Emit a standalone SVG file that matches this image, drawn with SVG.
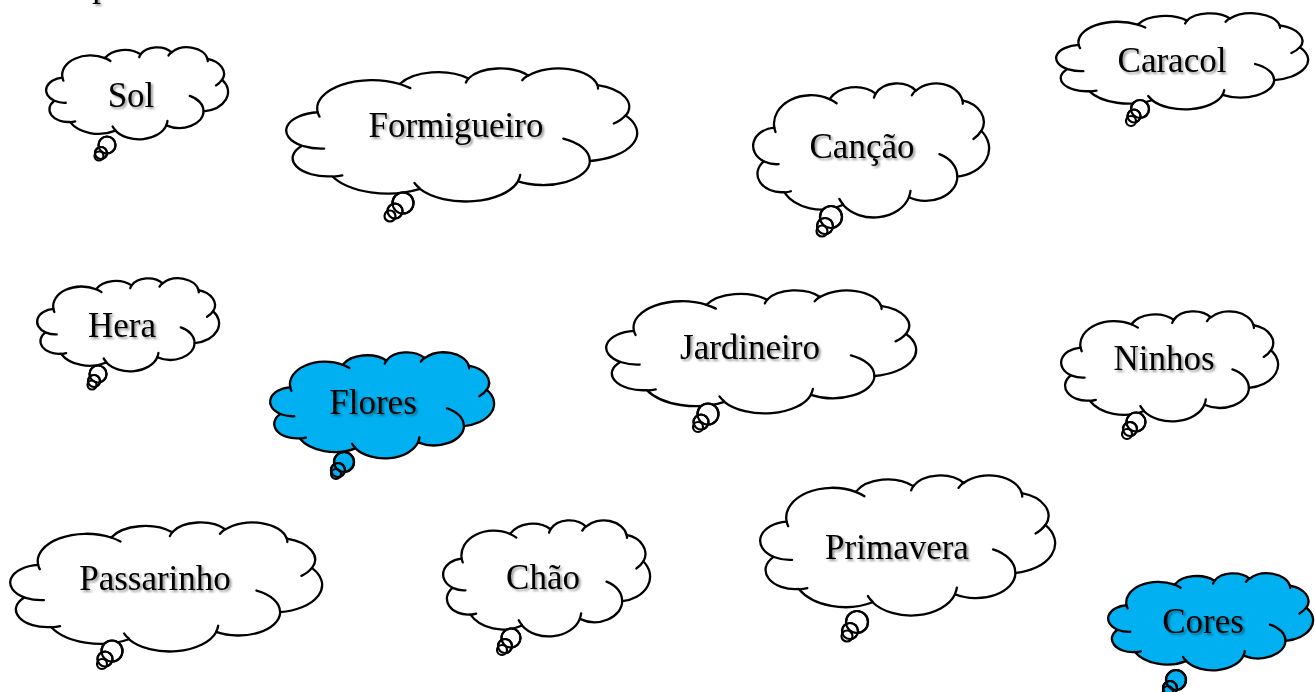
<svg xmlns="http://www.w3.org/2000/svg" xmlns:xlink="http://www.w3.org/1999/xlink" width="1315" height="692" viewBox="0 0 1315 692">
<style>
.cl{stroke:#000;stroke-width:2.3;stroke-linejoin:round;vector-effect:non-scaling-stroke}
.cr{fill:none;stroke:#000;stroke-width:2.3;stroke-linecap:round;vector-effect:non-scaling-stroke}
.w{fill:#fff}
.b{fill:#00b0f0}
.t{stroke:#000;stroke-width:2.2}
.tn{fill:none;stroke:#000;stroke-width:2.2}
text{font-family:"Liberation Serif","Times New Roman",serif;font-size:35px;fill:#000;text-anchor:middle;filter:url(#sh)}
</style>
<defs>
<filter id="sh" x="-10%" y="-30%" width="130%" height="170%"><feDropShadow dx="2" dy="2" stdDeviation="1.3" flood-color="#000" flood-opacity="0.4"/></filter>
<path id="cloud" class="cl" d="M9.03,33.26A15.63,21.27 0 0 1 32.42,12.04A12.34,16.82 0 0 1 51.98,7.95A10.10,13.76 0 0 1 69.06,5.74A11.24,15.27 0 0 1 88.70,12.91A12.34,16.84 0 0 1 96.80,35.79A15.68,21.34 0 0 1 86.59,69.92A13.39,18.21 0 0 1 66.10,85.22A15.63,21.33 0 0 1 38.15,90.90A17.87,24.41 0 0 1 13.16,81.42A10.09,13.70 0 0 1 4.61,58.45A10.06,13.76 0 0 1 9.03,33.26Z"/>
<path id="crease" class="cr" d="M10.86,60.59A10.06,13.76 0 0 1 5.00,58.75M16.04,80.79A10.09,13.70 0 0 1 13.47,81.67M38.14,90.49A15.63,21.33 0 0 1 36.60,86.46M66.73,80.44A15.63,21.33 0 0 1 66.11,84.86M79.00,53.13A13.39,18.21 0 0 1 86.53,69.65M96.75,35.54A12.34,16.84 0 0 1 93.40,41.74M88.71,12.56A11.24,15.27 0 0 1 88.89,15.49M67.31,9.15A11.24,15.27 0 0 1 69.03,5.42M51.25,10.93A10.10,13.76 0 0 1 52.08,7.71M32.41,12.02A15.63,21.27 0 0 1 35.42,15.14M9.55,36.55A15.63,21.27 0 0 1 9.03,33.26"/>
<g id="cloudShape"><use href="#cloud"/><use href="#crease"/></g>
</defs>

<text x="101" y="-4">p</text>

<g id="connectors"></g>

<g id="sol">
<use href="#cloudShape" class="w" transform="translate(46,47) scale(1.82,0.92)"/>
<g class="w"><circle class="t" cx="107" cy="145" r="8.5"/><circle class="t" cx="101" cy="153" r="6"/><circle class="t" cx="99" cy="156" r="4.5"/><circle class="tn" cx="107" cy="145" r="8.5"/><circle class="tn" cx="101" cy="153" r="6"/></g>
<text x="131" y="107">Sol</text>
</g>

<g id="formigueiro">
<use href="#cloudShape" class="w" transform="translate(286,68) scale(3.51,1.33)"/>
<g class="w"><circle class="t" cx="403" cy="203" r="10.5"/><circle class="t" cx="395" cy="211" r="7.5"/><circle class="t" cx="390" cy="216" r="5.5"/><circle class="tn" cx="403" cy="203" r="10.5"/><circle class="tn" cx="395" cy="211" r="7.5"/></g>
<text x="456" y="137">Formigueiro</text>
</g>

<g id="cancao">
<use href="#cloudShape" class="w" transform="translate(753,83) scale(2.36,1.34)"/>
<g class="w"><circle class="t" cx="831" cy="217" r="11"/><circle class="t" cx="825" cy="226" r="8"/><circle class="t" cx="822" cy="231" r="5.5"/><circle class="tn" cx="831" cy="217" r="11"/><circle class="tn" cx="825" cy="226" r="8"/></g>
<text x="862" y="158">Canção</text>
</g>

<g id="caracol">
<use href="#cloudShape" class="w" transform="translate(1056,13) scale(2.52,0.96)"/>
<g class="w"><circle class="t" cx="1140" cy="109" r="9"/><circle class="t" cx="1134" cy="116" r="6.5"/><circle class="t" cx="1131" cy="121" r="5"/><circle class="tn" cx="1140" cy="109" r="9"/><circle class="tn" cx="1134" cy="116" r="6.5"/></g>
<text x="1172" y="72">Caracol</text>
</g>

<g id="hera">
<use href="#cloudShape" class="w" transform="translate(37,278) scale(1.82,0.93)"/>
<g class="w"><circle class="t" cx="98" cy="374" r="8.5"/><circle class="t" cx="94" cy="381" r="6"/><circle class="t" cx="92" cy="385" r="4.5"/><circle class="tn" cx="98" cy="374" r="8.5"/><circle class="tn" cx="94" cy="381" r="6"/></g>
<text x="122" y="337">Hera</text>
</g>

<g id="flores">
<use href="#cloudShape" class="b" transform="translate(270,352) scale(2.24,1.06)"/>
<g class="b"><circle class="t" cx="344" cy="462" r="10"/><circle class="t" cx="338" cy="470" r="7"/><circle class="t" cx="336" cy="474" r="5"/><circle class="tn" cx="344" cy="462" r="10"/><circle class="tn" cx="338" cy="470" r="7"/></g>
<text x="373" y="414">Flores</text>
</g>

<g id="jardineiro">
<use href="#cloudShape" class="w" transform="translate(606,290) scale(3.10,1.23)"/>
<g class="w"><circle class="t" cx="708" cy="414" r="10.5"/><circle class="t" cx="701" cy="422" r="7.5"/><circle class="t" cx="698" cy="427" r="5"/><circle class="tn" cx="708" cy="414" r="10.5"/><circle class="tn" cx="701" cy="422" r="7.5"/></g>
<text x="750" y="359">Jardineiro</text>
</g>

<g id="ninhos">
<use href="#cloudShape" class="w" transform="translate(1061,311) scale(2.17,1.10)"/>
<g class="w"><circle class="t" cx="1136" cy="422" r="9.5"/><circle class="t" cx="1130" cy="429" r="7"/><circle class="t" cx="1127" cy="434" r="5"/><circle class="tn" cx="1136" cy="422" r="9.5"/><circle class="tn" cx="1130" cy="429" r="7"/></g>
<text x="1164" y="370">Ninhos</text>
</g>

<g id="passarinho">
<use href="#cloudShape" class="w" transform="translate(10,522) scale(3.12,1.29)"/>
<g class="w"><circle class="t" cx="112" cy="651" r="10.5"/><circle class="t" cx="105" cy="659" r="7.5"/><circle class="t" cx="102" cy="664" r="5"/><circle class="tn" cx="112" cy="651" r="10.5"/><circle class="tn" cx="105" cy="659" r="7.5"/></g>
<text x="155" y="590">Passarinho</text>
</g>

<g id="chao">
<use href="#cloudShape" class="w" transform="translate(443,520) scale(2.07,1.16)"/>
<g class="w"><circle class="t" cx="511" cy="638" r="9.5"/><circle class="t" cx="505" cy="646" r="7"/><circle class="t" cx="502" cy="650" r="5"/><circle class="tn" cx="511" cy="638" r="9.5"/><circle class="tn" cx="505" cy="646" r="7"/></g>
<text x="543" y="589">Chão</text>
</g>

<g id="primavera">
<use href="#cloudShape" class="w" transform="translate(760,475) scale(2.95,1.40)"/>
<g class="w"><circle class="t" cx="857" cy="622" r="11"/><circle class="t" cx="850" cy="631" r="8"/><circle class="t" cx="847" cy="636" r="5.5"/><circle class="tn" cx="857" cy="622" r="11"/><circle class="tn" cx="850" cy="631" r="8"/></g>
<text x="897" y="559">Primavera</text>
</g>

<g id="cores">
<use href="#cloudShape" class="b" transform="translate(1108,573) scale(2.05,0.97)"/>
<g class="b"><circle class="t" cx="1176" cy="680" r="10"/><circle class="t" cx="1170" cy="688" r="7"/><circle class="t" cx="1168" cy="691" r="5"/><circle class="tn" cx="1176" cy="680" r="10"/><circle class="tn" cx="1170" cy="688" r="7"/></g>
<text x="1203" y="633">Cores</text>
</g>
</svg>
